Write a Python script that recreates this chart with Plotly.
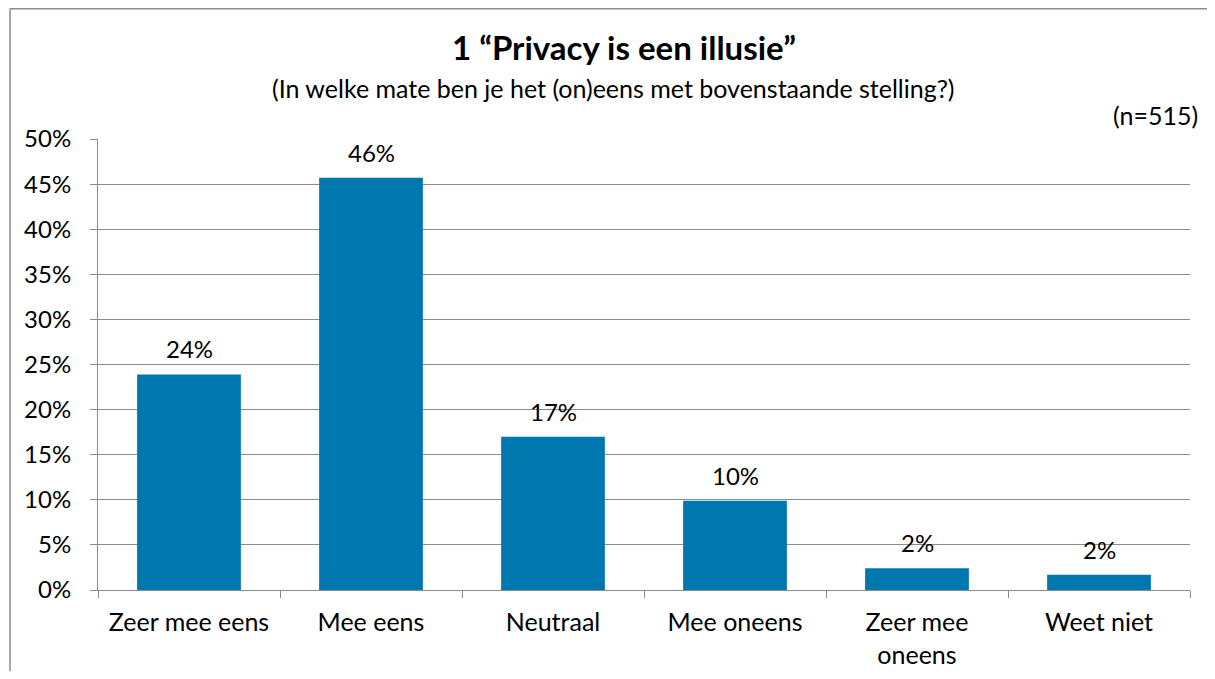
import plotly.graph_objects as go

categories = ["Zeer mee eens", "Mee eens", "Neutraal", "Mee oneens", "Zeer mee<br>oneens", "Weet niet"]
values = [23.9, 45.7, 17.0, 9.9, 2.4, 1.7]
labels = ["24%", "46%", "17%", "10%", "2%", "2%"]
tick_vals = [0, 5, 10, 15, 20, 25, 30, 35, 40, 45, 50]
tick_text = ["0%", "5%", "10%", "15%", "20%", "25%", "30%", "35%", "40%", "45%", "50%"]

FONT = "Lato"
GRAY = "#8C8C8C"

# figure geometry (page has 8px body margin)
W, H = 1199, 663
L, T, R, B = 90, 131, 17, 81
pw = W - L - R
ph = H - T - B


def px(fx):
    return (fx - L) / pw


def py(fy):
    return (H - B - fy) / ph


fig = go.Figure(go.Bar(
    x=categories, y=values,
    marker=dict(color="#0077AF", line=dict(width=0)),
))

annotations = [
    dict(text=t, x=c, y=v, xref="x", yref="y", yanchor="bottom", yshift=9,
         showarrow=False, font=dict(size=24, color="black", family=FONT))
    for c, v, t in zip(categories, values, labels)
]
annotations += [
    dict(text="<b>1 “Privacy is een illusie”</b>", x=px(616), y=py(39), xref="paper", yref="paper",
         xanchor="center", yanchor="middle",
         showarrow=False, font=dict(size=33, color="black", family=FONT)),
    dict(text="(In welke mate ben je het (on)eens met bovenstaande stelling?)", x=px(605), y=py(80),
         xref="paper", yref="paper", xanchor="center", yanchor="middle",
         showarrow=False, font=dict(size=25, color="black", family=FONT)),
    dict(text="(n=515)", x=px(1192), y=py(107), xref="paper", yref="paper", xanchor="right",
         yanchor="middle", showarrow=False, font=dict(size=25, color="black", family=FONT)),
]

fig.update_layout(
    width=W, height=H,
    paper_bgcolor="white", plot_bgcolor="white",
    margin=dict(l=L, r=R, t=T, b=B, autoexpand=False),
    bargap=0.43,
    showlegend=False,
    font=dict(family=FONT, size=25, color="black"),
    annotations=annotations,
)

fig.update_yaxes(
    range=[0, 50], tickvals=tick_vals, ticktext=tick_text,
    showgrid=True, gridcolor=GRAY, gridwidth=1,
    showline=True, linecolor=GRAY, linewidth=1,
    ticks="outside", ticklen=7, tickcolor=GRAY, automargin=False,
    tickfont=dict(size=24, family=FONT, color="black"), zeroline=False, ticklabelstandoff=14,
)
fig.update_xaxes(
    showgrid=False, showline=True, linecolor=GRAY, linewidth=1,
    ticks="outside", ticklen=7, tickcolor=GRAY, tickson="boundaries", automargin=False,
    tickfont=dict(size=25, family=FONT, color="black"), ticklabelstandoff=10,
)

# chart-area border (left and top edges visible in the reference)
fig.add_shape(type="line", xref="paper", yref="paper",
              x0=px(2), x1=px(2), y0=py(H + 5), y1=py(0.8),
              line=dict(color=GRAY, width=1.5))
fig.add_shape(type="line", xref="paper", yref="paper",
              x0=px(2), x1=px(W + 5), y0=py(0.8), y1=py(0.8),
              line=dict(color=GRAY, width=1.5))

fig.write_html("out.html")
